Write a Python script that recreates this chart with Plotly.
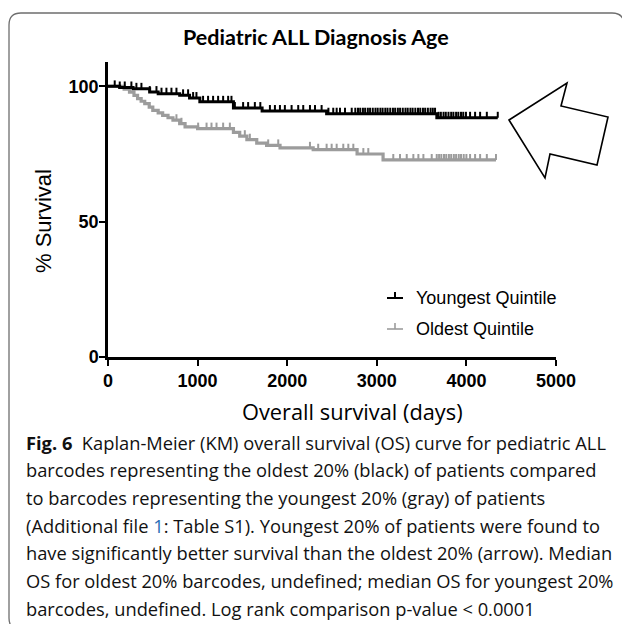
import plotly.graph_objects as go
from bisect import bisect_right

# ---------------- data ----------------
young_times = [0, 130, 280, 465, 560, 800, 910, 1025, 1400, 1720, 2440, 3670]
young_surv = [100, 99.6, 99.1, 97.9, 97.3, 96.7, 95.7, 94.3, 92.0, 90.9, 89.9, 88.4]
young_end = 4350
young_censor = [75, 131, 187, 261, 317, 373, 466, 541, 597, 652, 708, 764, 838, 894, 950, 987,
                1061, 1117, 1173, 1229, 1285, 1341, 1378, 1416, 1508, 1564, 1639, 1700, 1807,
                1863, 1919, 1974, 2049, 2123, 2179, 2254, 2310, 2384, 2460, 2514, 2552, 2589,
                2645, 2720, 2760, 2790, 2815, 2845, 2870, 2900, 2925, 2955, 2985, 3010, 3040,
                3065, 3095, 3120, 3150, 3180, 3205, 3235, 3260, 3290, 3320, 3345, 3375, 3400,
                3430, 3460, 3485, 3515, 3540, 3570, 3600, 3625, 3650, 3690, 3715, 3745, 3770,
                3800, 3830, 3855, 3885, 3910, 3940, 3965, 3995, 4041, 4097, 4153, 4228, 4350]

old_times = [0, 180, 240, 290, 330, 370, 410, 460, 500, 560, 610, 670, 725, 800, 860, 1000,
             1400, 1470, 1550, 1660, 1770, 1920, 2290, 2780, 3070]
old_surv = [100, 99.0, 97.9, 96.7, 95.5, 94.5, 93.6, 92.3, 91.1, 90.2, 89.3, 88.4, 87.5, 86.2,
            85.0, 84.4, 83.0, 81.6, 80.3, 79.0, 78.2, 77.3, 76.6, 75.0, 72.8]
old_end = 4330
old_censor = [764, 820, 1006, 1100, 1155, 1211, 1285, 1360, 1527, 1583, 1788, 1900, 2254, 2346,
              2440, 2496, 2552, 2626, 2682, 2738, 2850, 2905, 3184, 3259, 3334, 3408, 3464, 3520,
              3613, 3669, 3695, 3720, 3750, 3775, 3805, 3830, 3860, 3885, 3915, 3940, 3970, 4000,
              4041, 4097, 4153, 4228, 4330]

series_names = ["Youngest Quintile", "Oldest Quintile"]
x_ticks = [0, 1000, 2000, 3000, 4000, 5000]
y_ticks = [0, 50, 100]

title_text = "Pediatric ALL Diagnosis Age"
x_title = "Overall survival (days)"
y_title = "% Survival"
caption_lines = [
    "<b>Fig. 6</b>  Kaplan-Meier (KM) overall survival (OS) curve for pediatric ALL",
    "barcodes representing the oldest 20% (black) of patients compared",
    "to barcodes representing the youngest 20% (gray) of patients",
    "(Additional file <span style='color:#2a6db5'>1</span>: Table S1). Youngest 20% of patients were found to",
    "have significantly better survival than the oldest 20% (arrow). Median",
    "OS for oldest 20% barcodes, undefined; median OS for youngest 20%",
    "barcodes, undefined. Log rank comparison p-value < 0.0001",
]

# ---------------- layout geometry ----------------
# The page body has an 8px margin, so the figure is 8px smaller and all
# window positions below are converted by subtracting OFF.
OFF = 8
W, H = 630 - OFF, 624 - OFF
PL, PR, PT, PB = 108, 556, 62, 357          # plot box in window pixels
L, R, T, B = PL - OFF, W - (PR - OFF), PT - OFF, H - (PB - OFF)
PW, PH = PR - PL, PB - PT


def px(x):
    return (x - PL) / PW


def py(y):
    return (PB - y) / PH


BLACK = "#000000"
GRAY = "#9c9c9c"
TICK_H = 2.2


def censor_segments(times, surv, censor):
    xs, ys = [], []
    for c in censor:
        i = bisect_right(times, c) - 1
        s = surv[i]
        xs += [c, c, None]
        ys += [s, s + TICK_H, None]
    return xs, ys


fig = go.Figure()
for times, surv, end, cens, col, lw in [
    (old_times, old_surv, old_end, old_censor, GRAY, 3.2),
    (young_times, young_surv, young_end, young_censor, BLACK, 3.0),
]:
    fig.add_trace(go.Scatter(x=times + [end], y=surv + [surv[-1]], mode="lines",
                             line=dict(color=col, width=lw, shape="hv"),
                             showlegend=False, hoverinfo="skip"))
    cx, cy = censor_segments(times, surv, cens)
    fig.add_trace(go.Scatter(x=cx, y=cy, mode="lines", line=dict(color=col, width=2),
                             showlegend=False, hoverinfo="skip"))

tick_font = dict(family="Liberation Sans, Arial", size=18, color="black", weight="bold")
fig.update_xaxes(range=[0, 5000], tickvals=x_ticks, ticktext=[str(v) for v in x_ticks],
                 showline=True, linewidth=2.5, linecolor="black", ticks="outside",
                 ticklen=6, tickwidth=2, tickcolor="black", showgrid=False, zeroline=False,
                 tickfont=tick_font)
fig.update_yaxes(range=[0, 109], tickvals=y_ticks, ticktext=[str(v) for v in y_ticks],
                 showline=True, linewidth=2.5, linecolor="black", ticks="outside",
                 ticklen=6, tickwidth=2, tickcolor="black", showgrid=False, zeroline=False,
                 tickfont=tick_font, ticklabelstandoff=-3)

shapes = []
# rounded border
x0, y0, x1, y1, r = 9, 13, 624, 630, 12
border = (f"M {px(x0)},{py(y0 + r)} Q {px(x0)},{py(y0)} {px(x0 + r)},{py(y0)} "
          f"L {px(x1 - r)},{py(y0)} Q {px(x1)},{py(y0)} {px(x1)},{py(y0 + r)} "
          f"L {px(x1)},{py(y1 - r)} Q {px(x1)},{py(y1)} {px(x1 - r)},{py(y1)} "
          f"L {px(x0 + r)},{py(y1)} Q {px(x0)},{py(y1)} {px(x0)},{py(y1 - r)} Z")
shapes.append(dict(type="path", path=border, xref="paper", yref="paper",
                   line=dict(color="#6e6e6e", width=1.3), layer="below"))
# arrow
arrow_pts = [(509, 120), (567, 83), (561, 106), (608, 117), (597, 165), (550, 154), (545, 178)]
arrow = "M " + " L ".join(f"{px(a)},{py(b)}" for a, b in arrow_pts) + " Z"
shapes.append(dict(type="path", path=arrow, xref="paper", yref="paper",
                   line=dict(color="black", width=1.6), fillcolor="white"))
# legend symbols
for yy, col, lw in [(298, BLACK, 2), (329, GRAY, 1.6)]:
    shapes.append(dict(type="line", xref="paper", yref="paper", x0=px(387), x1=px(403),
                       y0=py(yy), y1=py(yy), line=dict(color=col, width=lw)))
    shapes.append(dict(type="line", xref="paper", yref="paper", x0=px(395), x1=px(395),
                       y0=py(yy), y1=py(yy - 6), line=dict(color=col, width=lw)))

ann = []
ann.append(dict(text="<b>" + title_text + "</b>", x=px(316), y=py(37), xref="paper", yref="paper",
                showarrow=False, xanchor="center", yanchor="middle",
                font=dict(family="Lato", size=21.5, color="black")))
ann.append(dict(text=x_title, x=px(352), y=py(411), xref="paper", yref="paper",
                showarrow=False, xanchor="center", yanchor="middle",
                font=dict(family="Open Sans", size=21.8, color="black")))
ann.append(dict(text=y_title, x=px(44), y=py(221), xref="paper", yref="paper", textangle=-90,
                showarrow=False, xanchor="center", yanchor="middle",
                font=dict(family="Liberation Sans, Arial", size=22, color="black")))
for name, yy in zip(series_names, [298, 329]):
    ann.append(dict(text=name, x=px(414), y=py(yy), xref="paper", yref="paper",
                    showarrow=False, xanchor="left", yanchor="middle",
                    font=dict(family="Liberation Sans, Arial", size=18, color="black")))
for i, line in enumerate(caption_lines):
    ann.append(dict(text=line, x=px(24), y=py(442 + 27.7 * i), xref="paper", yref="paper",
                    showarrow=False, xanchor="left", yanchor="middle",
                    font=dict(family="Open Sans", size=18.3, color="#111111")))

fig.update_layout(width=W, height=H, margin=dict(l=L, r=R, t=T, b=B),
                  paper_bgcolor="white", plot_bgcolor="white", shapes=shapes, annotations=ann,
                  showlegend=False)
fig.write_html("out.html")
